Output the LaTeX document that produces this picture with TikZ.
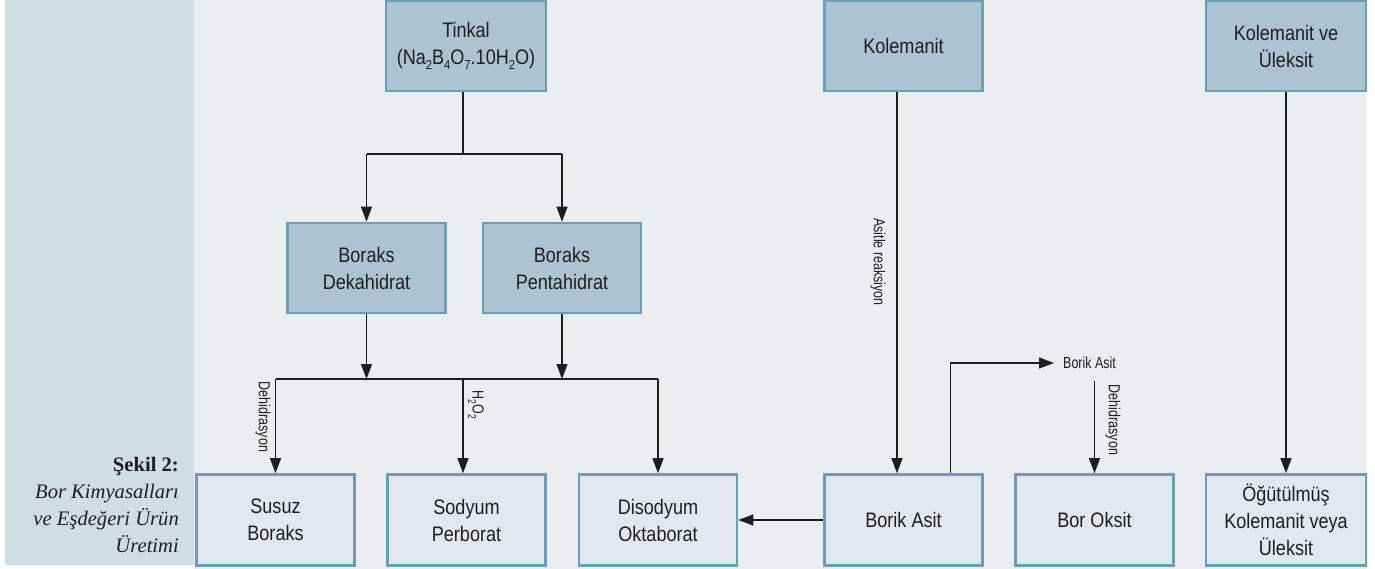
\documentclass[tikz,border=0pt]{standalone}
\usepackage{fontspec}
\setmainfont[FakeStretch=0.86]{Liberation Sans}
\newfontfamily\narrowfont[FakeStretch=0.78]{Liberation Sans}
\newfontfamily\capfont{Liberation Serif}
\usetikzlibrary{arrows.meta}
\definecolor{bgmain}{HTML}{EAEEF1}
\definecolor{bgleft}{HTML}{D1DDE5}
\definecolor{boxdark}{HTML}{ACC3D2}
\definecolor{boxlight}{HTML}{E2E8EE}
\definecolor{boxline}{HTML}{6A9FB6}
\definecolor{ink}{HTML}{1E1E1E}
\newcommand\subtx[1]{\raisebox{-0.45ex}{\fontsize{13}{13}\selectfont #1}}
\newcommand\subsm[1]{\raisebox{-0.5ex}{\fontsize{11}{11}\selectfont #1}}
\begin{document}
\begin{tikzpicture}[x=1pt,y=-1pt,
  box/.style={draw=boxline, line width=2.6pt, minimum width=158, minimum height=90, align=center, font=\fontsize{21}{27}\selectfont, text=ink, inner sep=0pt},
  darkbox/.style={box, fill=boxdark},
  lightbox/.style={box, fill=boxlight},
  conn/.style={draw=ink, line width=1.3pt},
  arr/.style={conn, -{Triangle[length=15pt,width=11pt]}},
  small/.style={font=\narrowfont\fontsize{16}{18}\selectfont, text=ink, inner sep=2pt}]
% background
\fill[white] (0,0) rectangle (1375,569);
\useasboundingbox (0,0) rectangle (1375,569);
\fill[bgleft] (5,0) rectangle (194,565);
\fill[bgmain] (194,0) rectangle (1366,569);
% caption
\node[anchor=east, align=right, text=ink, inner sep=0pt, font=\capfont\fontsize{20.6}{27}\selectfont] (cap) at (179,505)
  {\textbf{Şekil 2:}\\ \textit{Bor Kimyasalları}\\ \textit{ve Eşdeğeri Ürün}\\ \textit{Üretimi}};
% top boxes
\node[darkbox, minimum width=160] (tinkal) at (466,46) {Tinkal\\(Na\subtx{2}B\subtx{4}O\subtx{7}.10H\subtx{2}O)};
\node[darkbox] (kol) at (903.5,46) {Kolemanit};
\node[darkbox, minimum width=160] (kolul) at (1286,46) {Kolemanit ve\\Üleksit};
% middle boxes
\node[darkbox] (dek) at (366.5,268) {Boraks\\Dekahidrat};
\node[darkbox] (pen) at (562,268) {Boraks\\Pentahidrat};
% bottom boxes
\node[lightbox, minimum height=91] (susuz) at (275.5,520) {Susuz\\Boraks};
\node[lightbox, minimum height=91] (sodyum) at (466.5,520) {Sodyum\\Perborat};
\node[lightbox, minimum height=91] (diso) at (658,520) {Disodyum\\Oktaborat};
\node[lightbox, minimum height=91] (borik) at (903.5,520) {Borik Asit};
\node[lightbox, minimum height=91] (boroksit) at (1094.5,520) {Bor Oksit};
\node[lightbox, minimum height=91, minimum width=160] (ogut) at (1286,520) {Öğütülmüş\\Kolemanit veya\\Üleksit};
% junctions
\coordinate (j1) at (463,154);
\coordinate (j2) at (463,379);
% Tinkal branch
\draw[conn] ([xshift=-3pt]tinkal.south) -- (j1);
\draw[conn] (dek.north |- j1) -- (pen.north |- j1);
\draw[arr] (dek.north |- j1) -- (dek.north);
\draw[arr] (pen.north |- j1) -- (pen.north);
% second level
\draw[arr] (dek.south) -- (dek.south |- j2);
\draw[arr] (pen.south) -- (pen.south |- j2);
\draw[conn] (susuz.north |- j2) -- (diso.north |- j2);
\draw[arr] (susuz.north |- j2) -- (susuz.north);
\draw[arr] (j2) -- (j2 |- sodyum.north);
\draw[arr] (diso.north |- j2) -- (diso.north);
\node[small, rotate=-90] (l1) at (263,417) {Dehidrasyon};
\node[small, rotate=-90] (l2) at (476,405) {H\subsm{2}O\subsm{2}};
% Kolemanit
\draw[arr] ([xshift=-6.5pt]kol.south) -- ([xshift=-6.5pt]borik.north);
\node[small, rotate=-90] (l3) at (878,262) {Asitle reaksiyon};
% Borik asit loop
\node[small, anchor=west, inner sep=0pt] (bal) at (1063,363) {Borik Asit};
\draw[arr] ([xshift=47pt]borik.north) |- ([xshift=-9pt]bal.west);
\draw[arr] (boroksit.north |- 0,381) -- (boroksit.north);
\node[small, rotate=-90] (l4) at (1113,420) {Dehidrasyon};
\draw[arr] (borik.west) -- (diso.east);
% Kolemanit ve Uleksit
\draw[arr] (kolul.south) -- (ogut.north);
\end{tikzpicture}
\end{document}
